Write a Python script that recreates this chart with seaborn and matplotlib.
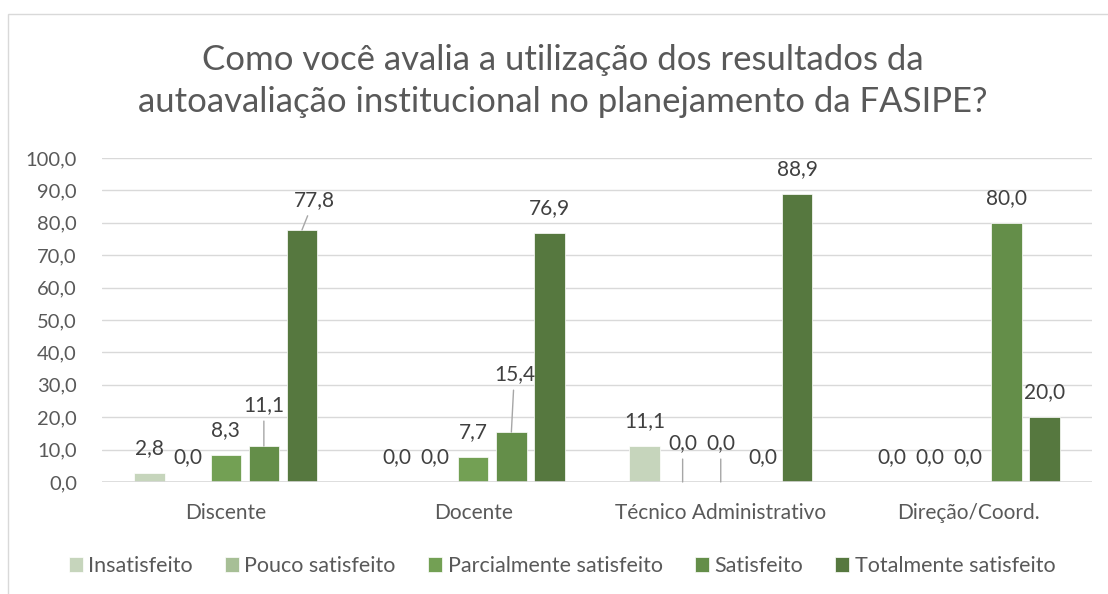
import pandas as pd
import numpy as np
import seaborn as sns
import matplotlib.pyplot as plt
from matplotlib.patches import Rectangle

# Dados do gráfico
grupos = ['Discente', 'Docente', 'Técnico Administrativo', 'Direção/Coord.']
series = ['Insatisfeito', 'Pouco satisfeito', 'Parcialmente satisfeito',
          'Satisfeito', 'Totalmente satisfeito']
insatisfeito = [2.8, 0.0, 11.1, 0.0]
pouco_satisfeito = [0.0, 0.0, 0.0, 0.0]
parcialmente_satisfeito = [8.3, 7.7, 0.0, 0.0]
satisfeito = [11.1, 15.4, 0.0, 80.0]
totalmente_satisfeito = [77.8, 76.9, 88.9, 20.0]
titulo = 'Como você avalia a utilização dos resultados da\nautoavaliação institucional no planejamento da FASIPE?'

cores = ['#c5d9b8', '#a6c68f', '#70ad47', '#62993d', '#548235']

valores = [insatisfeito, pouco_satisfeito, parcialmente_satisfeito,
           satisfeito, totalmente_satisfeito]
df = pd.DataFrame({
    'grupo': [g for _ in series for g in grupos],
    'serie': [s for s in series for _ in grupos],
    'valor': [v for vals in valores for v in vals],
})

# Rótulos deslocados manualmente (serie, grupo): (dx, dy, linha guia) em pixels
deslocamentos = {
    (3, 0): (0, 16, True),
    (4, 0): (12, 5, True),
    (3, 1): (3, 33, True),
    (1, 2): (0, 14, True),
    (2, 2): (0, 14, True),
    (3, 2): (4, 0, False),
}

sns.set_style('white')
plt.rcParams['font.family'] = ['Lato', 'DejaVu Sans']

fig = plt.figure(figsize=(11.08, 5.94), dpi=100)
ax = fig.add_axes([102 / 1108, 1 - 482 / 594, 990 / 1108, 324 / 594])

sns.barplot(data=df, x='grupo', y='valor', hue='serie', order=grupos,
            hue_order=series, palette=cores, width=0.77, gap=0.2,
            edgecolor='white', linewidth=0.5, ax=ax)

ax.set_ylim(0, 100)
ax.set_yticks(np.arange(0, 101, 10))
ax.set_yticklabels([f'{t:.1f}'.replace('.', ',') for t in np.arange(0, 101, 10)])
ax.yaxis.grid(True, color='#d9d9d9', linewidth=1.0)
ax.set_axisbelow(True)
for s in ax.spines.values():
    s.set_visible(False)
ax.axhline(0, color='#d9d9d9', linewidth=1.2, zorder=1)
ax.set_xlabel('')
ax.set_ylabel('')
ax.tick_params(axis='y', length=0, pad=18, labelsize=14.5, labelcolor='#595959')
ax.tick_params(axis='x', length=0, pad=15, labelsize=15, labelcolor='#595959')

# Rótulos de dados
for i, cont in enumerate(ax.containers):
    for j, bar in enumerate(cont):
        xc = bar.get_x() + bar.get_width() / 2
        h = bar.get_height()
        dx, dy, guia = deslocamentos.get((i, j), (0, 0, False))
        texto = f'{h:.1f}'.replace('.', ',')
        props = dict(arrowstyle='-', color='#a6a6a6', lw=1.0,
                     shrinkA=2, shrinkB=0) if guia else None
        ax.annotate(texto, xy=(xc, h), xytext=(dx, 25 + dy),
                    textcoords='offset pixels', ha='center', va='center',
                    fontsize=15, color='#404040', arrowprops=props,
                    annotation_clip=False)

handles, labels = ax.get_legend_handles_labels()
ax.get_legend().remove()
fig.legend(handles, labels, loc='center', bbox_to_anchor=(562 / 1108, 1 - 566 / 594),
           ncol=5, frameon=False, fontsize=15.5, handlelength=0.65,
           handleheight=0.65, handletextpad=0.25, columnspacing=1.5,
           labelcolor='#595959')

fig.text(563 / 1108, 1 - 81 / 594, titulo, ha='center', va='center',
         fontsize=25, color='#595959', linespacing=1.35)

# Borda da área do gráfico
fig.patches.append(Rectangle((8 / 1108, -0.1), 1.2, 1.1 - 14 / 594,
                             transform=fig.transFigure, fill=False,
                             edgecolor='#d9d9d9', linewidth=1.0))

fig.savefig('out.png', dpi=100)
